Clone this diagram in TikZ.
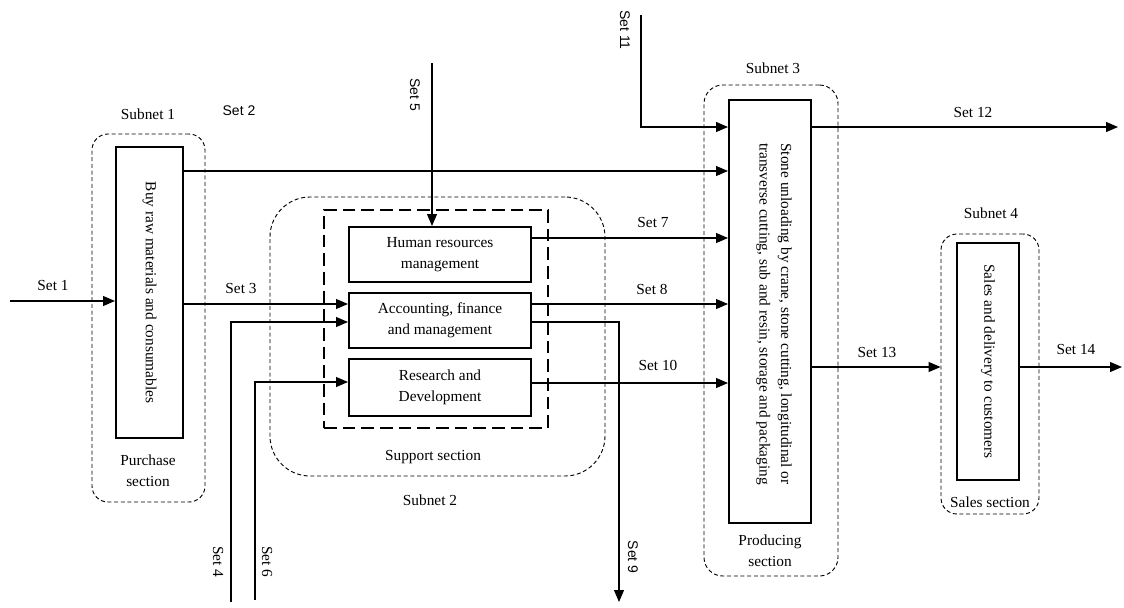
\documentclass[tikz,border=0pt]{standalone}
\usepackage{fontspec}
\setmainfont{Liberation Serif}
\newfontfamily\labelsans{Liberation Sans}
\usetikzlibrary{arrows.meta,fit,positioning}

\tikzset{
  procbox/.style={draw, line width=1.5pt, inner sep=0pt},
  subnet/.style={draw, line width=0.7pt, dash pattern=on 3pt off 2pt, rounded corners=10pt, inner sep=0pt},
  flow/.style={line width=0.8pt, -{Triangle[length=9pt,width=7.5pt]}},
  wire/.style={line width=0.8pt},
  lbl/.style={font=\fontsize{11.5}{16}\selectfont, align=center, inner sep=1pt},
  slbl/.style={font=\labelsans\fontsize{10.5}{13}\selectfont, inner sep=1pt},
}

\begin{document}
\begin{tikzpicture}[x=0.75pt, y=-0.75pt]
\useasboundingbox (0,0) rectangle (1124,607);

% Purchase section (subnet 1)
\node[procbox, fit={(116,147) (183,438)}] (purch) {};
\node[lbl, rotate=-90] (purchtxt) at (purch.center) {Buy raw materials and consumables};
\node[subnet, rounded corners=12pt, fit={(92,134) (205,502)}] (sub1) {};
\node[lbl] (sub1name) at (148,114) {Subnet 1};
\node[lbl] (purchsec) at (148,471) {Purchase\\section};

% Support section (subnet 2)
\node[subnet, rounded corners=30pt, fit={(270,197) (605,476)}] (sub2) {};
\node[draw, line width=1.5pt, dash pattern=on 9.5pt off 4.5pt, inner sep=0pt, fit={(324,210) (548,428)}] (supp) {};
\node[procbox, fit={(349,227) (531,282)}] (hr) {};
\node[procbox, fit={(349,293) (531,348)}] (acc) {};
\node[procbox, fit={(349,359) (531,416)}] (rd) {};
\node[lbl] (hrtxt) at (hr.center) {Human resources\\management};
\node[lbl] (acctxt) at (acc.center) {Accounting, finance\\and management};
\node[lbl] (rdtxt) at (rd.center) {Research and\\Development};
\node[lbl] (suppsec) at (433,457) {Support section};
\node[lbl] (sub2name) at (430,500) {Subnet 2};

% Producing section (subnet 3)
\node[procbox, fit={(729,100) (811,523)}] (prod) {};
\node[lbl, rotate=-90] (prodtxt) at (774,314) {Stone unloading by crane, stone cutting, longitudinal or\\transverse cutting, sub and resin, storage and packaging};
\node[subnet, rounded corners=14pt, fit={(704,85) (838,576)}] (sub3) {};
\node[lbl] (sub3name) at (773,68) {Subnet 3};
\node[lbl] (prodsec) at (770,551) {Producing\\section};

% Sales section (subnet 4)
\node[procbox, fit={(957,243) (1019,480)}] (sales) {};
\node[lbl, rotate=-90] (salestxt) at (sales.center) {Sales and delivery to customers};
\node[subnet, rounded corners=12pt, fit={(941,234) (1039,514)}] (sub4) {};
\node[lbl] (sub4name) at (991,213) {Subnet 4};
\node[lbl] (salessec) at (990,502) {Sales section};

% free ends and levels of the sets
\coordinate (in1) at (10,301);
\coordinate (y2) at (0,171);
\coordinate (y3) at (0,304);
\coordinate (in4) at (231,602);
\coordinate (y4) at (0,322);
\coordinate (in5) at (432,63);
\coordinate (in6) at (255,600);
\coordinate (y6) at (0,382);
\coordinate (y7) at (0,238);
\coordinate (out9) at (619,602);
\coordinate (y10) at (0,383);
\coordinate (in11) at (641,15);
\coordinate (y11) at (0,127);
\coordinate (out12) at (1118,127);
\coordinate (y13) at (0,367);
\coordinate (out14) at (1122,367);

% flows
\draw[flow] (in1) -- (in1 -| purch.west);
\draw[flow] (purch.east |- y2) -- (prod.west |- y2);
\draw[flow] (purch.east |- y3) -- (acc.west |- y3);
\draw[flow] (in4) |- (acc.west |- y4);
\draw[flow] (in5) -- (in5 |- hr.north);
\draw[flow] (in6) |- (rd.west |- y6);
\draw[flow] (hr.east |- y7) -- (prod.west |- y7);
\draw[flow] (acc.east |- y3) -- (prod.west |- y3);
\draw[flow] (acc.east |- y4) -| (out9);
\draw[flow] (rd.east |- y10) -- (prod.west |- y10);
\draw[flow] (in11) |- (prod.west |- y11);
\draw[flow] (prod.east |- y11) -- (out12);
\draw[flow] (prod.east |- y13) -- (sub4.west |- y13);
\draw[flow] (sales.east |- y13) -- (out14);

% set labels
\node[lbl] (set1) at (53,285) {Set 1};
\node[slbl] (set2) at (239,111) {Set 2};
\node[lbl] (set3) at (241,288) {Set 3};
\node[lbl, rotate=-90] (set4) at (218,562) {Set 4};
\node[slbl, rotate=-90] (set5) at (415,95) {Set 5};
\node[lbl, rotate=-90] (set6) at (267,562) {Set 6};
\node[lbl] (set7) at (653,222) {Set 7};
\node[lbl] (set8) at (652,289) {Set 8};
\node[slbl, rotate=-90] (set9) at (633,557) {Set 9};
\node[lbl] (set10) at (658,365) {Set 10};
\node[slbl, rotate=-90] (set11) at (625,30) {Set 11};
\node[lbl] (set12) at (973,112) {Set 12};
\node[lbl] (set13) at (877,352) {Set 13};
\node[lbl] (set14) at (1076,349) {Set 14};
\end{tikzpicture}
\end{document}
